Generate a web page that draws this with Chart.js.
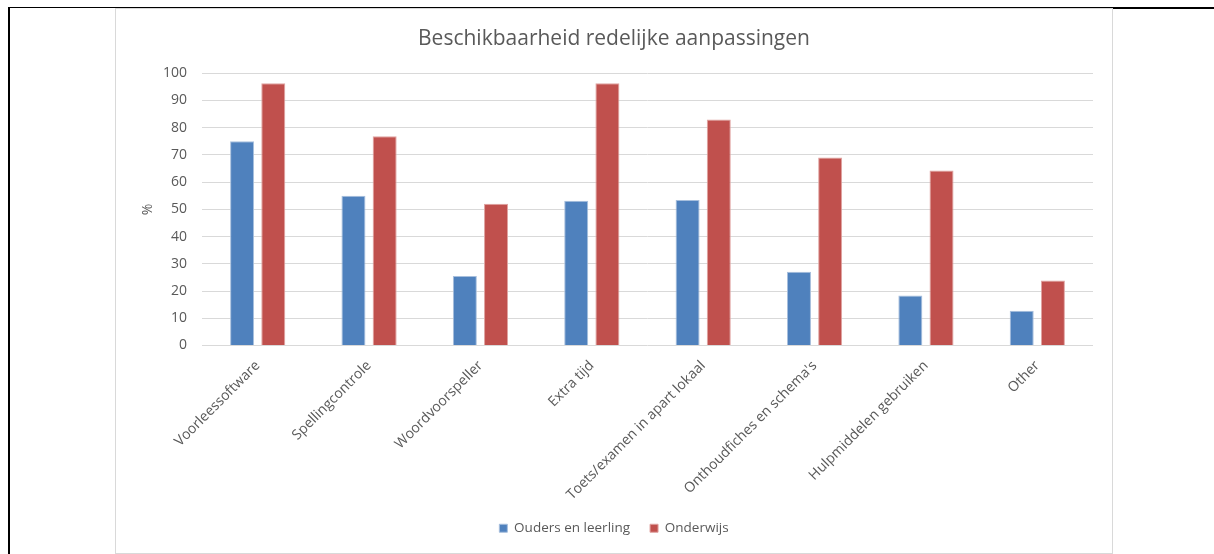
<!DOCTYPE html>
<html>
<head>
<meta charset="utf-8">
<script src="https://cdn.jsdelivr.net/npm/chart.js@4/dist/chart.umd.min.js"></script>
<style>
  body { margin: 0; background: #fff; }
  .frame-left { position: absolute; left: 8px; top: 7px; width: 2px; height: 547px; background: #000; }
  .frame-top { position: absolute; left: 8px; top: 7px; width: 1105px; height: 1px; background: #000; }
  .frame-top-right { position: absolute; left: 1113px; top: 7px; width: 101px; height: 2px; background: #000; }
  .box { position: absolute; left: 115px; top: 8px; width: 998px; height: 546px; border: 1px solid #d9d9d9; box-sizing: border-box; }
  canvas { display: block; }
</style>
</head>
<body>
<div class="frame-left"></div>
<div class="frame-top"></div>
<div class="frame-top-right"></div>
<div class="box"><canvas id="myChart" width="996" height="544"></canvas></div>
<script>
// Data
const categories = ['Voorleessoftware', 'Spellingcontrole', 'Woordvoorspeller', 'Extra tijd',
    'Toets/examen in apart lokaal', "Onthoudfiches en schema's", 'Hulpmiddelen gebruiken', 'Other'];
const oudersEnLeerling = [75, 55, 25.5, 53.2, 53.4, 27.1, 18.4, 12.8];
const onderwijs = [96.3, 76.8, 52.1, 96.3, 83.0, 69.0, 64.3, 23.9];
const yTicks = [0, 10, 20, 30, 40, 50, 60, 70, 80, 90, 100];

const textColor = '#595959';
const font = 'Open Sans';

const ctx = document.getElementById('myChart').getContext('2d');

const chart = new Chart(ctx, {
    type: 'bar',
    data: {
        labels: categories,
        datasets: [{
            label: 'Ouders en leerling',
            backgroundColor: '#4f81bd',
            borderColor: '#a7bfdd',
            borderWidth: 1,
            data: oudersEnLeerling
        }, {
            label: 'Onderwijs',
            backgroundColor: '#c0504d',
            borderColor: '#e0a3a1',
            borderWidth: 1,
            data: onderwijs
        }]
    },
    options: {
        responsive: false,
        animation: false,
        datasets: {
            bar: { categoryPercentage: 0.56, barPercentage: 0.77 }
        },
        layout: { padding: { left: 0, right: 0, top: 0, bottom: 8 } },
        plugins: {
            title: {
                display: true,
                text: 'Beschikbaarheid redelijke aanpassingen',
                color: textColor,
                font: { family: font, size: 21, weight: 'normal' },
                padding: { top: 17, bottom: 22 }
            },
            legend: {
                position: 'bottom',
                labels: {
                    color: textColor,
                    font: { family: font, size: 13.5 },
                    boxWidth: 8,
                    boxHeight: 8,
                    padding: 20
                }
            },
            tooltip: { enabled: false }
        },
        scales: {
            x: {
                grid: { display: false },
                border: { display: false },
                ticks: {
                    color: textColor,
                    font: { family: font, size: 14 },
                    minRotation: 45,
                    maxRotation: 45,
                    padding: 4
                },
                afterFit: (scale) => { scale.height = 156; }
            },
            y: {
                min: 0,
                max: 100,
                afterBuildTicks: (scale) => { scale.ticks = yTicks.map(v => ({ value: v })); },
                grid: { color: '#d9d9d9', lineWidth: 1, drawTicks: false },
                border: { display: false },
                ticks: {
                    color: textColor,
                    font: { family: font, size: 14 },
                    padding: 15
                },
                title: {
                    display: true,
                    text: '%',
                    color: textColor,
                    font: { family: font, size: 14 },
                    padding: { top: 24, bottom: 0 }
                },
                afterFit: (scale) => { scale.width = 86; }
            },
            // empty strip on the right so title and legend stay centred in the box
            yRight: {
                position: 'right',
                grid: { display: false },
                border: { display: false },
                ticks: { display: false },
                afterFit: (scale) => { scale.width = 19; }
            }
        }
    }
});
</script>
</body>
</html>
